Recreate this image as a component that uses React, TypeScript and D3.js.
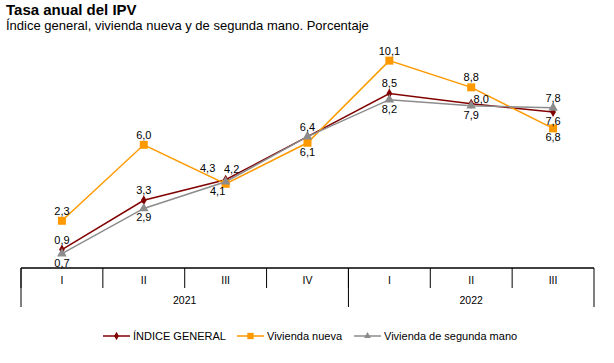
import React from 'react';
import * as d3 from 'd3';

const quarters = ['I', 'II', 'III', 'IV', 'I', 'II', 'III'];
const years = [{ label: '2021', span: 4 }, { label: '2022', span: 3 }];
const indiceGeneral = [0.9, 3.3, 4.3, 6.4, 8.5, 8.0, 7.6];
const viviendaNueva = [2.3, 6.0, 4.1, 6.1, 10.1, 8.8, 6.8];
const segundaMano = [0.7, 2.9, 4.2, 6.4, 8.2, 7.9, 7.8];

// where each value label sits relative to its point (null = no label)
const igLabelPos = ['t', 't', 'tl', 't', 't', 'r', 'b'];
const nvLabelPos = ['t', 't', 'bl', 'b', 't', 't', 'b'];
const smLabelPos = ['b', 'b', 'tr', null, 'b', 'b', 't'];

const width = 614;
const height = 363;
const left = 21;
const right = 594;

const fmt = (v: number) => v.toFixed(1).replace('.', ',');

const labelOffset = (pos: string) => {
  switch (pos) {
    case 't': return [0, -6];
    case 'b': return [0, 13];
    case 'tl': return [-18, -8];
    case 'tr': return [6, -9];
    case 'bl': return [-8, 11];
    case 'r': return [10, -1];
    default: return [0, 0];
  }
};

export default function App() {
  const x = d3.scaleBand().domain(quarters.map((_, i) => String(i))).range([left, right]);
  const y = d3.scaleLinear().domain([0, 10]).range([268, 62.7]);
  const cx = (i: number) => (x(String(i)) as number) + x.bandwidth() / 2;

  const line = d3.line<number>().x((_, i) => cx(i)).y(d => y(d));

  const series = [
    { name: 'ÍNDICE GENERAL', values: indiceGeneral, color: '#800000', marker: 'diamond', labels: igLabelPos },
    { name: 'Vivienda nueva', values: viviendaNueva, color: '#FF9900', marker: 'square', labels: nvLabelPos },
    { name: 'Vivienda de segunda mano', values: segundaMano, color: '#8C8C8C', marker: 'triangle', labels: smLabelPos },
  ];

  const markerPath = (type: string) => {
    if (type === 'square') return d3.symbol(d3.symbolSquare, 64)();
    if (type === 'triangle') return d3.symbol(d3.symbolTriangle, 40)();
    return d3.symbol(d3.symbolDiamond, 28)();
  };

  const axisY = y(0);
  let acc = 0;
  const yearBounds = years.map(yr => {
    const start = acc;
    acc += yr.span;
    return { ...yr, x0: x(String(start)) as number, x1: start + yr.span >= quarters.length ? right : (x(String(acc)) as number) };
  });

  const legendX = [103, 237, 354];

  return (
    <svg width={width} height={height} style={{ position: 'absolute', left: 0, top: 0, fontFamily: 'Liberation Sans, Arial, sans-serif' }}>
      <rect width={width} height={height} fill="#fff" />
      <text x={6} y={15} fontSize={15} fontWeight="bold" fill="#000">Tasa anual del IPV</text>
      <text x={6} y={30} fontSize={13} fill="#000">Índice general, vivienda nueva y de segunda mano. Porcentaje</text>

      {/* category axis */}
      <line x1={left} x2={right} y1={axisY} y2={axisY} stroke="#000" strokeWidth={1.3} />
      {quarters.map((q, i) => (
        <g key={i}>
          <line x1={x(String(i))} x2={x(String(i))} y1={axisY} y2={288} stroke="#000" />
          <text x={cx(i)} y={284} fontSize={10.5} textAnchor="middle" fill="#000">{q}</text>
        </g>
      ))}
      <line x1={right} x2={right} y1={axisY} y2={307} stroke="#000" />
      {yearBounds.map(yr => (
        <g key={yr.label}>
          <line x1={yr.x0} x2={yr.x0} y1={axisY} y2={307} stroke="#000" />
          <text x={(yr.x0 + yr.x1) / 2} y={304} fontSize={10.5} textAnchor="middle" fill="#000">{yr.label}</text>
        </g>
      ))}

      {series.map(s => (
        <g key={s.name}>
          <path d={line(s.values) as string} fill="none" stroke={s.color} strokeWidth={1.5} />
        </g>
      ))}
      {series.map(s => (
        <g key={s.name + 'm'}>
          {s.values.map((v, i) => (
            <path key={i} d={markerPath(s.marker) as string} transform={`translate(${cx(i)},${y(v)})`} fill={s.color} />
          ))}
        </g>
      ))}
      {series.map(s => (
        <g key={s.name + 'l'}>
          {s.values.map((v, i) => {
            const pos = s.labels[i];
            if (!pos) return null;
            const [dx, dy] = labelOffset(pos);
            return (
              <text key={i} x={cx(i) + dx} y={y(v) + dy} fontSize={11} textAnchor="middle" fill="#000">{fmt(v)}</text>
            );
          })}
        </g>
      ))}

      {/* legend */}
      {series.map((s, i) => (
        <g key={s.name + 'lg'} transform={`translate(${legendX[i]},336)`}>
          <line x1={0} x2={27} y1={0} y2={0} stroke={s.color} strokeWidth={1.5} />
          <path d={d3.symbol(s.marker === 'square' ? d3.symbolSquare : s.marker === 'triangle' ? d3.symbolTriangle : d3.symbolDiamond, s.marker === 'square' ? 40 : 20)() as string} transform="translate(13.5,0)" fill={s.color} />
          <text x={30} y={4} fontSize={11} fill="#000">{s.name}</text>
        </g>
      ))}
    </svg>
  );
}
